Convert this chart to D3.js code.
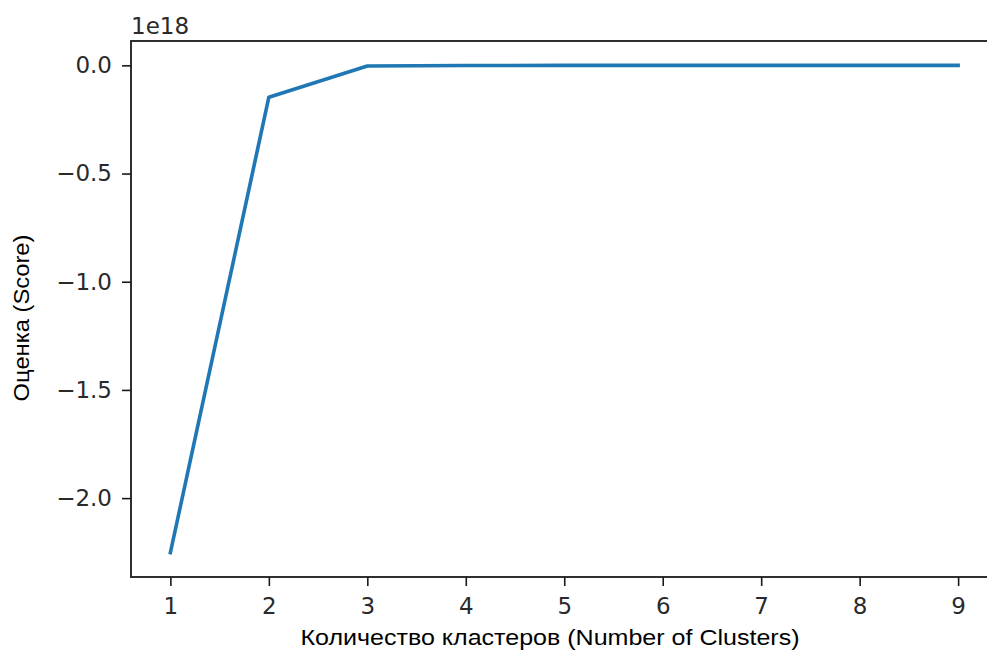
<!DOCTYPE html>
<html>
<head>
<meta charset="utf-8">
<script src="https://cdn.jsdelivr.net/npm/d3@7"></script>
<style>
  html, body { margin: 0; padding: 0; background: #fff; overflow: hidden; }
  svg { display: block; }
</style>
</head>
<body>
<svg id="chart" width="987" height="650"></svg>
<script>
// Elbow-style scores for K-means runs with 1..9 clusters
const clusterCounts = [1, 2, 3, 4, 5, 6, 7, 8, 9];
const scores = [-2.252e18, -0.147e18, -0.003e18, -0.0006e18, -0.0003e18, -0.0002e18, -0.0001e18, -0.00006e18, -0.00003e18];
const xTicks = [1, 2, 3, 4, 5, 6, 7, 8, 9];
const yTicks = [0, -0.5e18, -1.0e18, -1.5e18, -2.0e18];
const offsetText = "1e18";
const xLabel = "Количество кластеров (Number of Clusters)";
const yLabel = "Оценка (Score)";

const svg = d3.select("#chart");

const plot = { left: 131, top: 41, right: 997.5, bottom: 577 };

// matplotlib-like 5% margins around the data range
const xMin = d3.min(clusterCounts), xMax = d3.max(clusterCounts);
const xPad = (xMax - xMin) * 0.05;
const x = d3.scaleLinear()
  .domain([xMin - xPad, xMax + xPad])
  .range([plot.left, plot.right]);

const yMin = d3.min(scores), yMax = d3.max(scores);
const yPad = (yMax - yMin) * 0.05;
const y = d3.scaleLinear()
  .domain([yMin - yPad, yMax + yPad])
  .range([plot.bottom, plot.top]);

const tickFont = "'DejaVu Sans', sans-serif";
const labelFont = "'Liberation Sans', Arial, sans-serif";
const ink = "#1a1a1a";

// Data line
const line = d3.line()
  .x((d, i) => x(clusterCounts[i]))
  .y(d => y(d));

svg.append("path")
  .datum(scores)
  .attr("d", line)
  .attr("fill", "none")
  .attr("stroke", "#1f77b4")
  .attr("stroke-width", 3.6)
  .attr("stroke-linejoin", "round")
  .attr("stroke-linecap", "square");

// Axes
const fmtY = v => {
  const s = (v / 1e18).toFixed(1);
  return s.replace("-", "\u2212");
};

const xAxis = d3.axisBottom(x)
  .tickValues(xTicks)
  .tickFormat(d3.format("d"))
  .tickSize(9)
  .tickPadding(6);

const yAxis = d3.axisLeft(y)
  .tickValues(yTicks)
  .tickFormat(fmtY)
  .tickSize(9)
  .tickPadding(10);

const gx = svg.append("g")
  .attr("transform", `translate(0,${plot.bottom})`)
  .call(xAxis);
const gy = svg.append("g")
  .attr("transform", `translate(${plot.left},0)`)
  .call(yAxis);

[gx, gy].forEach(g => {
  g.select(".domain").remove();
  g.selectAll(".tick line").attr("stroke", ink).attr("stroke-width", 1.6);
  g.selectAll(".tick text")
    .attr("fill", "#2a2a2a")
    .style("font-family", tickFont)
    .style("font-size", "23px");
});
gx.selectAll(".tick text").attr("dy", "0.95em");

// Frame (spines)
svg.append("rect")
  .attr("x", plot.left)
  .attr("y", plot.top)
  .attr("width", plot.right - plot.left)
  .attr("height", plot.bottom - plot.top)
  .attr("fill", "none")
  .attr("stroke", ink)
  .attr("stroke-width", 1.8);

// Offset (scale) text
svg.append("text")
  .attr("x", plot.left)
  .attr("y", 34)
  .attr("fill", "#2a2a2a")
  .style("font-family", tickFont)
  .style("font-size", "23px")
  .text(offsetText);

// Axis titles
svg.append("text")
  .attr("x", 550)
  .attr("y", 644.5)
  .attr("text-anchor", "middle")
  .attr("fill", "#000")
  .attr("textLength", 499)
  .attr("lengthAdjust", "spacingAndGlyphs")
  .style("font-family", labelFont)
  .style("font-size", "22px")
  .text(xLabel);

svg.append("text")
  .attr("transform", "translate(29,318) rotate(-90)")
  .attr("text-anchor", "middle")
  .attr("fill", "#000")
  .attr("textLength", 167)
  .attr("lengthAdjust", "spacingAndGlyphs")
  .style("font-family", labelFont)
  .style("font-size", "22px")
  .text(yLabel);
</script>
</body>
</html>
